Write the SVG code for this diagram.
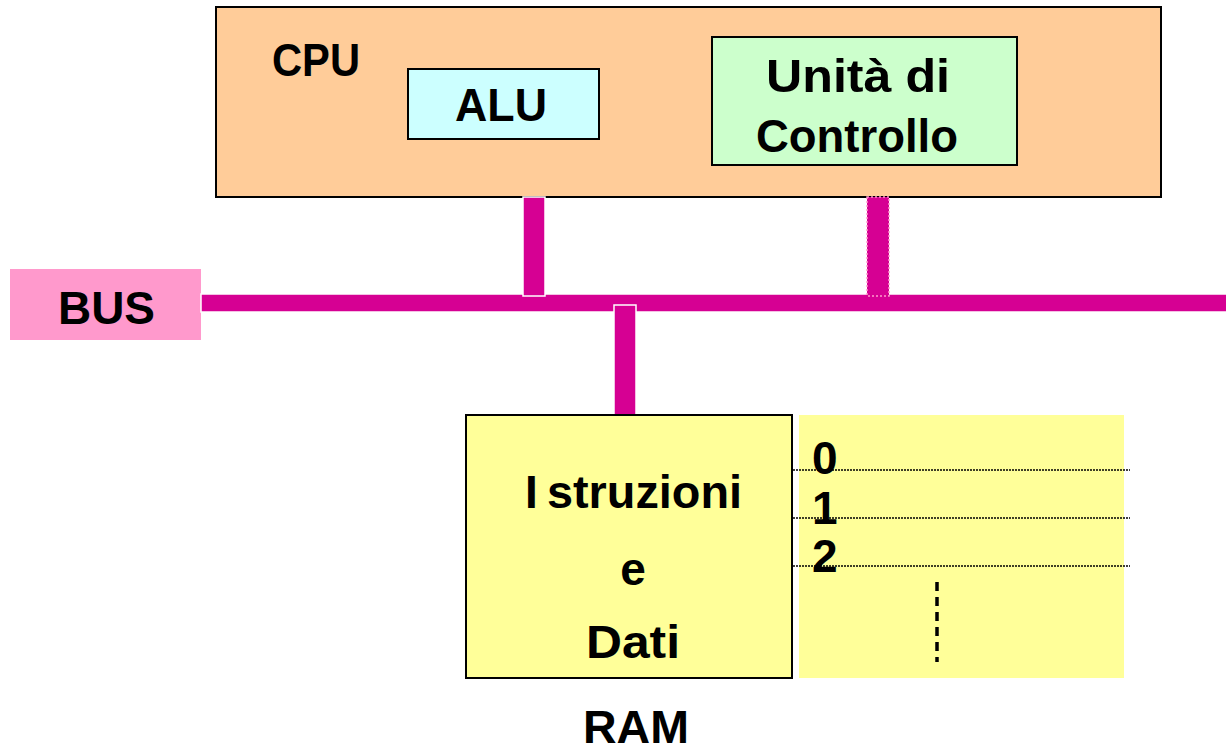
<svg xmlns="http://www.w3.org/2000/svg" width="1226" height="751" viewBox="0 0 1226 751">
<style>
.t{font-family:"Liberation Sans",Arial,sans-serif;font-weight:bold;font-size:46px;fill:#000}
.box{stroke:#000;stroke-width:2}
.bus{fill:#D60093;stroke:#fff;stroke-width:1.5}
.dot{stroke:#000;stroke-width:1.5;stroke-dasharray:2 1;fill:none}
</style>
<rect width="1226" height="751" fill="#fff"/>
<g id="cpu">
<rect class="box" x="216" y="7" width="945" height="190" fill="#FFCC99"/>
<text class="t" x="272" y="76" textLength="88" lengthAdjust="spacingAndGlyphs">CPU</text>
</g>
<g id="alu">
<rect class="box" x="408" y="69" width="191" height="70" fill="#CCFFFF"/>
<text class="t" x="455" y="121" textLength="92" lengthAdjust="spacingAndGlyphs">ALU</text>
</g>
<g id="controllo">
<rect class="box" x="712" y="37" width="305" height="128" fill="#CCFFCC"/>
<text class="t" x="766" y="92" textLength="184" lengthAdjust="spacingAndGlyphs">Unità di</text>
<text class="t" x="756" y="152" textLength="202" lengthAdjust="spacingAndGlyphs">Controllo</text>
</g>
<g id="bus-label">
<rect x="10" y="269" width="191" height="71" fill="#FF99CC"/>
<text class="t" x="58" y="324" textLength="97" lengthAdjust="spacingAndGlyphs">BUS</text>
</g>
<g id="connectors">
<rect class="bus" x="201" y="294" width="1030" height="18"/>
<rect class="bus" x="523" y="197" width="22" height="99"/>
<rect class="bus" x="867" y="197" width="22" height="99" style="stroke:#FF99CC;stroke-dasharray:2 2"/>
<rect class="bus" x="614" y="305" width="22" height="110"/>
</g>
<g id="ram">
<rect class="box" x="466" y="415" width="326" height="263" fill="#FFFF99"/>
<text class="t" x="525" y="508">I<tspan x="547" textLength="195" lengthAdjust="spacingAndGlyphs">struzioni</tspan></text>
<text class="t" x="633" y="585" text-anchor="middle">e</text>
<text class="t" x="586" y="658" textLength="94" lengthAdjust="spacingAndGlyphs">Dati</text>
<text class="t" x="583" y="743" textLength="106" lengthAdjust="spacingAndGlyphs">RAM</text>
</g>
<g id="memory-cells">
<rect x="799" y="415" width="325" height="263" fill="#FFFF99"/>
<text class="t" x="812" y="474">0</text>
<text class="t" x="812" y="524">1</text>
<text class="t" x="812" y="572">2</text>
<line class="dot" x1="793" y1="470" x2="1130" y2="470"/>
<line class="dot" x1="793" y1="518" x2="1130" y2="518"/>
<line class="dot" x1="793" y1="566" x2="1130" y2="566"/>
<line x1="937" y1="582" x2="937" y2="662" stroke="#000" stroke-width="3.5" stroke-dasharray="9 6"/>
</g>
</svg>
